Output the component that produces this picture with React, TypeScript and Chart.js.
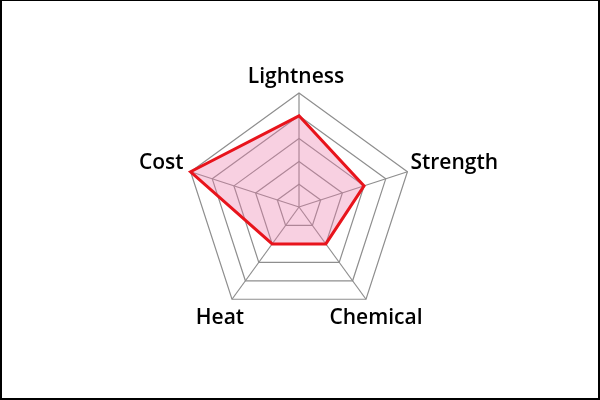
import React, { useEffect, useRef } from "react";
import { Chart, registerables } from "chart.js";

Chart.register(...registerables);

const categories = ["Lightness", "Strength", "Chemical", "Heat", "Cost"];
const seriesValues = [4, 3, 2, 2, 5];
const scaleMax = 5;

// label placement relative to each axis end: [dx, dy, align]
const labelOffsets: [number, number, CanvasTextAlign][] = [
  [-3, -10, "center"],
  [3, -3, "left"],
  [10, 25, "center"],
  [-12, 25, "center"],
  [-7, -3, "right"],
];

const labelPlugin = {
  id: "customPointLabels",
  afterDraw(chart: any) {
    const scale = chart.scales.r;
    const ctx = chart.ctx as CanvasRenderingContext2D;
    ctx.save();
    ctx.fillStyle = "#000";
    ctx.font = "600 21px 'Open Sans'";
    ctx.textBaseline = "alphabetic";
    categories.forEach((label, i) => {
      const p = scale.getPointPosition(i, scale.drawingArea);
      const [dx, dy, align] = labelOffsets[i];
      ctx.textAlign = align;
      ctx.fillText(label, p.x + dx, p.y + dy);
    });
    ctx.restore();
  },
};

export default function App() {
  const ref = useRef<HTMLCanvasElement | null>(null);

  useEffect(() => {
    document.body.style.margin = "0";
    const canvas = ref.current;
    if (!canvas) return;
    const chart = new Chart(canvas, {
      type: "radar",
      data: {
        labels: categories,
        datasets: [
          {
            data: seriesValues,
            borderColor: "#e8141c",
            borderWidth: 3,
            backgroundColor: "rgba(236, 120, 170, 0.35)",
            pointRadius: 0,
            pointHoverRadius: 0,
            fill: true,
          },
        ],
      },
      options: {
        responsive: false,
        animation: false,
        devicePixelRatio: 1,
        layout: { padding: { top: 93, bottom: 79, left: 0, right: 2 } },
        plugins: { legend: { display: false }, tooltip: { enabled: false } },
        scales: {
          r: {
            min: 0,
            max: scaleMax,
            ticks: { display: false, stepSize: 1 },
            grid: { color: "#8e8e8e", lineWidth: 1.2 },
            angleLines: { color: "#8e8e8e", lineWidth: 1.2 },
            pointLabels: { display: false },
          },
        },
      },
      plugins: [labelPlugin],
    });
    return () => chart.destroy();
  }, []);

  return (
    <div style={{ position: "relative", width: 600, height: 400, background: "#fff" }}>
      <canvas ref={ref} width={600} height={400} style={{ position: "absolute", left: 0, top: 0, width: 600, height: 400 }} />
      <div
        style={{
          position: "absolute",
          left: 0,
          top: 0,
          width: 600,
          height: 400,
          boxSizing: "border-box",
          borderStyle: "solid",
          borderColor: "#000",
          borderWidth: "1px 2px 2px 2px",
          pointerEvents: "none",
        }}
      />
    </div>
  );
}
